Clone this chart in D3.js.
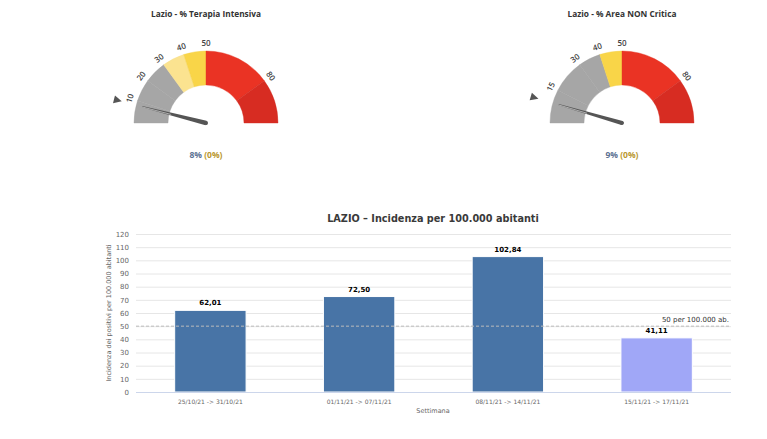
<!DOCTYPE html>
<html>
<head>
<meta charset="utf-8">
<script src="https://cdn.jsdelivr.net/npm/d3@7"></script>
<style>
  html, body { margin: 0; padding: 0; background: #fff; }
  svg { display: block; }
</style>
</head>
<body>
<svg id="chart" width="767" height="439"></svg>
<script>
// gauges data
const gaugeTitles = ['Lazio - % Terapia Intensiva', 'Lazio - % Area NON Critica']
const gaugeValues = [8, 9]
const gaugeDeltas = [0, 0]
// bands: [from, to, color]
const gaugeBands = [
  [[0, 10, '#a6a6a6'], [10, 20, '#a6a6a6'], [20, 30, '#a6a6a6'], [30, 40, '#fbe390'], [40, 50, '#f9d548'], [50, 80, '#ea3324'], [80, 100, '#d72c22']],
  [[0, 15, '#a6a6a6'], [15, 30, '#a6a6a6'], [30, 40, '#a6a6a6'], [40, 50, '#f9d548'], [50, 80, '#ea3324'], [80, 100, '#d72c22']]
]
const gaugeTicks = [[10, 20, 30, 40, 50, 80], [15, 30, 40, 50, 80]]

// bar chart data
const weeks = ['25/10/21 -> 31/10/21', '01/11/21 -> 07/11/21', '08/11/21 -> 14/11/21', '15/11/21 -> 17/11/21']
const incidence = [62.01, 72.50, 102.84, 41.11]
const yTicks = [0, 10, 20, 30, 40, 50, 60, 70, 80, 90, 100, 110, 120]
const threshold = 50

const svg = d3.select('#chart')
const gaugeFont = '"Open Sans", sans-serif'
const chartFont = '"DejaVu Sans", Verdana, sans-serif'

function drawGauge(i, cx, cy) {
  const outer = 72
  const inner = 38
  const angle = d3.scaleLinear().domain([0, 100]).range([-Math.PI / 2, Math.PI / 2])
  const g = svg.append('g').attr('transform', `translate(${cx},${cy})`)

  svg.append('text')
    .attr('x', cx).attr('y', 17)
    .attr('text-anchor', 'middle')
    .attr('font-family', gaugeFont).attr('font-weight', 700)
    .attr('font-size', 8.3).attr('fill', '#333')
    .text(gaugeTitles[i])

  const arc = d3.arc().innerRadius(inner).outerRadius(outer)
  g.selectAll('path.band')
    .data(gaugeBands[i])
    .enter().append('path')
    .attr('class', 'band')
    .attr('d', d => arc({startAngle: angle(d[0]), endAngle: angle(d[1])}))
    .attr('fill', d => d[2])
    .attr('stroke', d => d3.color(d[2]).darker(0.08))
    .attr('stroke-width', 0.4)

  // tick labels
  g.selectAll('text.tick')
    .data(gaugeTicks[i])
    .enter().append('text')
    .attr('class', 'tick')
    .attr('transform', d => {
      const a = angle(d)
      const r = 80
      return `translate(${r * Math.sin(a)},${-r * Math.cos(a)}) rotate(${a * 180 / Math.PI})`
    })
    .attr('text-anchor', 'middle')
    .attr('dy', '0.35em')
    .attr('font-family', gaugeFont).attr('font-weight', 600)
    .attr('font-size', 8).attr('fill', '#444')
    .text(d => d)

  // marker triangle
  const v = gaugeValues[i]
  const a = angle(v)
  const mr = 91
  g.append('path')
    .attr('d', 'M-4,-4 L4,0 L-4,4 Z')
    .attr('fill', '#555')
    .attr('transform', `translate(${mr * Math.sin(a)},${-mr * Math.cos(a)}) rotate(${a * 180 / Math.PI + 90})`)

  // needle
  const len = 66
  const deg = a * 180 / Math.PI - 90
  const ng = g.append('g').attr('transform', `rotate(${deg})`)
  ng.append('path')
    .attr('d', `M0,-2.2 L${len},-0.6 L${len},0.6 L0,2.2 Z`)
    .attr('fill', '#555')
  ng.append('path')
    .attr('d', `M${len * 0.55},-0.4 L${len},-0.3`)
    .attr('stroke', '#ddd').attr('stroke-width', 0.6)
  ng.append('circle').attr('r', 2).attr('fill', '#555')

  const t = svg.append('text')
    .attr('x', cx).attr('y', 158)
    .attr('text-anchor', 'middle')
    .attr('font-family', gaugeFont).attr('font-weight', 700)
    .attr('font-size', 8.5)
  t.append('tspan').attr('fill', '#5c7293').text(v + '%')
  t.append('tspan').attr('fill', '#b9982e').text(' (' + gaugeDeltas[i] + '%)')
}

drawGauge(0, 206, 123)
drawGauge(1, 622, 123)

// bar chart
const margin = {left: 136, right: 731, top: 234, bottom: 392}
const x = d3.scaleBand().domain(weeks).range([margin.left, margin.right]).paddingInner(0.52).paddingOuter(0.26)
const y = d3.scaleLinear().domain([0, 120]).range([margin.bottom, margin.top])

svg.append('text')
  .attr('x', 433).attr('y', 222)
  .attr('text-anchor', 'middle')
  .attr('font-family', chartFont).attr('font-weight', 700)
  .attr('font-size', 9.7).attr('fill', '#3a3a3a')
  .text('LAZIO \u2013 Incidenza per 100.000 abitanti')

// grid lines
svg.append('g')
  .selectAll('line')
  .data(yTicks.slice(1))
  .enter().append('line')
  .attr('x1', margin.left).attr('x2', margin.right)
  .attr('y1', d => y(d) + 0.5).attr('y2', d => y(d) + 0.5)
  .attr('stroke', '#e6e6e6').attr('stroke-width', 1)

// y axis labels
const yAxis = d3.axisLeft(y).tickValues(yTicks).tickSize(0).tickPadding(7)
const yg = svg.append('g').attr('transform', `translate(${margin.left},0)`).call(yAxis)
yg.select('.domain').remove()
yg.selectAll('text').attr('font-family', chartFont).attr('font-size', 7).attr('fill', '#666')

svg.append('text')
  .attr('transform', `translate(111,${(margin.top + margin.bottom) / 2}) rotate(-90)`)
  .attr('text-anchor', 'middle')
  .attr('font-family', chartFont).attr('font-size', 6.5).attr('fill', '#666')
  .text('Incidenza dei positivi per 100.000 abitanti')

// bars
svg.append('g')
  .selectAll('rect')
  .data(incidence)
  .enter().append('rect')
  .attr('x', (d, i) => x(weeks[i]))
  .attr('y', d => y(d))
  .attr('width', x.bandwidth())
  .attr('height', d => y(0) - y(d))
  .attr('fill', (d, i) => i === incidence.length - 1 ? '#a0a7f7' : '#4874a6')
  .attr('stroke', '#fff').attr('stroke-width', 1)

// bar labels
svg.append('g')
  .selectAll('text')
  .data(incidence)
  .enter().append('text')
  .attr('x', (d, i) => x(weeks[i]) + x.bandwidth() / 2)
  .attr('y', d => y(d) - 5)
  .attr('text-anchor', 'middle')
  .attr('font-family', chartFont).attr('font-weight', 700)
  .attr('font-size', 7).attr('fill', '#000')
  .text(d => d.toFixed(2).replace('.', ','))

// x axis
svg.append('line')
  .attr('x1', margin.left).attr('x2', margin.right)
  .attr('y1', y(0) + 0.5).attr('y2', y(0) + 0.5)
  .attr('stroke', '#ccd6eb')
const xAxis = d3.axisBottom(x).tickSize(0).tickPadding(8)
const xg = svg.append('g').attr('transform', `translate(0,${y(0)})`).call(xAxis)
xg.select('.domain').remove()
xg.selectAll('text').attr('font-family', chartFont).attr('font-size', 6).attr('fill', '#666')

svg.append('text')
  .attr('x', 433).attr('y', 413)
  .attr('text-anchor', 'middle')
  .attr('font-family', chartFont).attr('font-size', 6.5).attr('fill', '#666')
  .text('Settimana')

// threshold line
svg.append('line')
  .attr('x1', margin.left).attr('x2', margin.right)
  .attr('y1', y(threshold)).attr('y2', y(threshold))
  .attr('stroke', '#bbb').attr('stroke-dasharray', '3,2').attr('stroke-width', 1)
svg.append('text')
  .attr('x', margin.right - 2).attr('y', y(threshold) - 4)
  .attr('text-anchor', 'end')
  .attr('font-family', chartFont).attr('font-size', 7).attr('fill', '#333')
  .text('50 per 100.000 ab.')
</script>
</body>
</html>
